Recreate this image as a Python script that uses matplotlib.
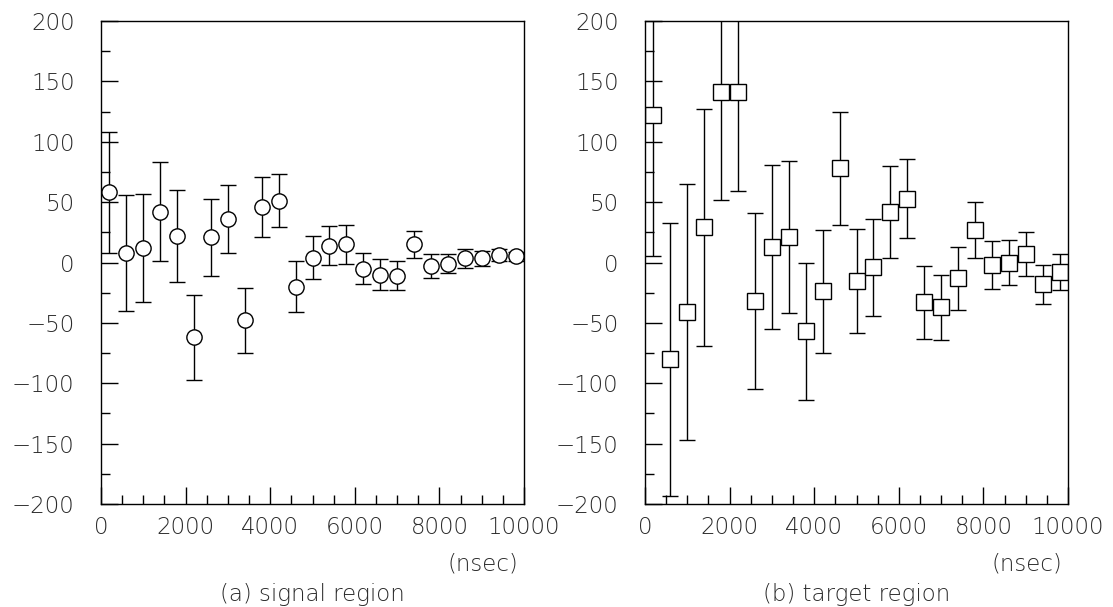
import numpy as np
import matplotlib
matplotlib.use('Agg')
import matplotlib.pyplot as plt
from matplotlib.ticker import MultipleLocator

# bin centres (nsec), shared by both panels
time_ns = [200, 600, 1000, 1400, 1800, 2200, 2600, 3000, 3400, 3800, 4200, 4600, 5000,
           5400, 5800, 6200, 6600, 7000, 7400, 7800, 8200, 8600, 9000, 9400, 9800]

# (a) signal region
signal_val = [58, 8, 12, 42, 22, -62, 21, 36, -48, 46, 51, -20, 4,
              14, 15, -5, -10, -11, 15, -3, -1, 3.5, 3.5, 6, 5]
signal_err = [50, 48, 45, 41, 38, 35, 32, 28, 27, 25, 22, 21, 18,
              16, 16, 13, 13, 12, 11, 10, 8, 8, 6, 5, 4]

# (b) target region
target_val = [122, -80, -41, 29, 141, 141, -32, 13, 21, -57, -24, 78, -15,
              -4, 42, 53, -33, -37, -13, 27, -2, 0, 7, -18, -8]
target_err = [117, 113, 106, 98, 89, 82, 73, 68, 63, 57, 51, 47, 43,
              40, 38, 33, 30, 27, 26, 23, 20, 19, 18, 16, 15]

captions = ["(a) signal region", "(b) target region"]
FS = 16.5
TXT = '#2a2a2a'

plt.rcParams['font.family'] = ['DejaVu Sans']
plt.rcParams['font.weight'] = 200

W, H = 1113, 607
fig = plt.figure(figsize=(W / 100, H / 100), dpi=100)
fig.patch.set_facecolor('white')

panels = [
    (101, 423, signal_val, signal_err, 'o', 11, captions[0]),
    (645, 423, target_val, target_err, 's', 12, captions[1]),
]

for left_px, width_px, vals, errs, mk, ms, cap in panels:
    ax = fig.add_axes([left_px / W, (H - 504) / H, width_px / W, 483 / H])
    ax.errorbar(time_ns, vals, yerr=errs, fmt=mk, ms=ms, mfc='white', mec='black',
                mew=1.0, ecolor='black', elinewidth=1.0, capsize=5.8, capthick=1.0)
    ax.set_xlim(0, 10000)
    ax.set_ylim(-200, 200)
    ax.xaxis.set_major_locator(MultipleLocator(2000))
    ax.xaxis.set_minor_locator(MultipleLocator(500))
    ax.yaxis.set_major_locator(MultipleLocator(50))
    ax.yaxis.set_minor_locator(MultipleLocator(25))
    ax.tick_params(which='both', direction='in', top=False, right=False,
                   width=1.0, color='black')
    ax.tick_params(which='major', length=12.5)
    ax.tick_params(which='minor', length=6.2)
    ax.tick_params(axis='y', which='major', pad=19, labelsize=FS, labelcolor=TXT)
    ax.tick_params(axis='x', which='major', pad=9, labelsize=FS, labelcolor=TXT)
    for s in ax.spines.values():
        s.set_linewidth(1.0)
    cx = (left_px + width_px - 41) / W
    fig.text(cx, 1 - 564 / H, "(nsec)", ha='center', va='center', fontsize=FS, color=TXT)
    fig.text((left_px + width_px / 2) / W, 1 - 595 / H, cap, ha='center', va='center',
             fontsize=FS, color=TXT)

fig.savefig("out.png", dpi=100)
